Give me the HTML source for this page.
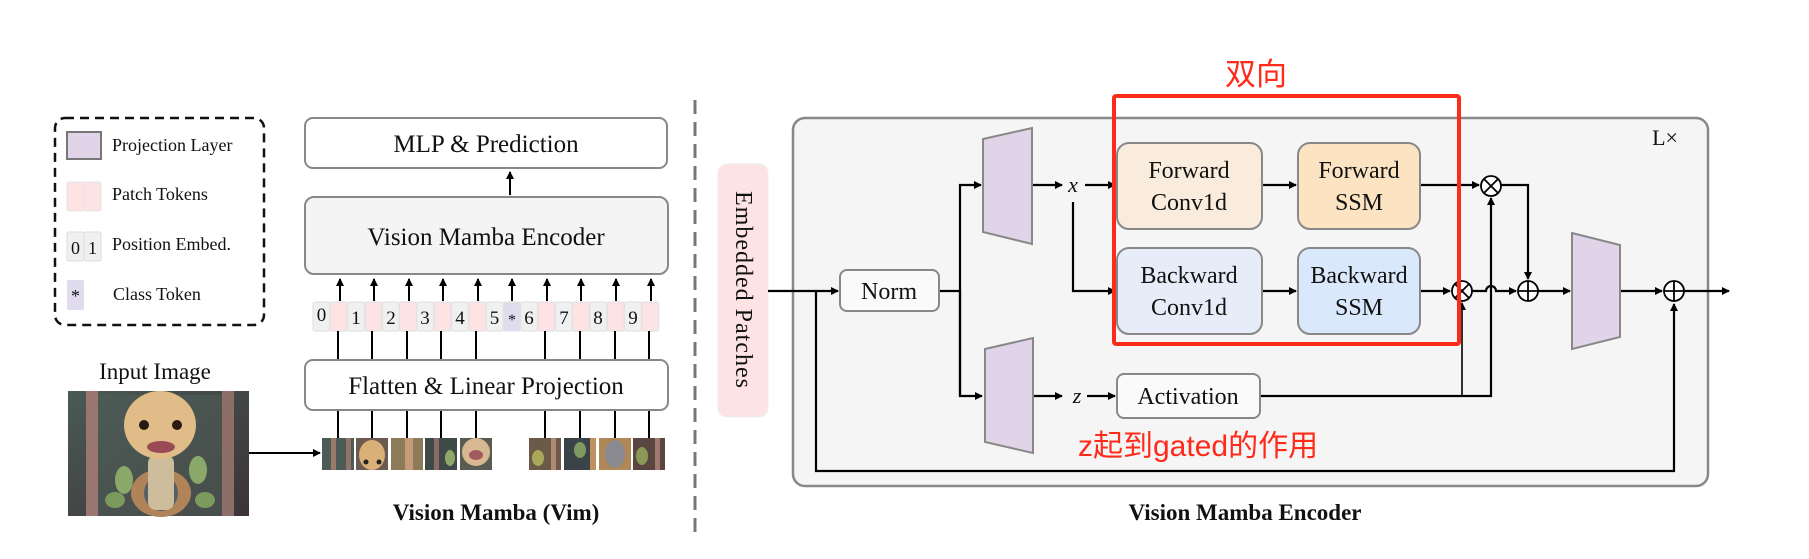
<!DOCTYPE html>
<html><head><meta charset="utf-8"><style>
html,body{margin:0;padding:0;background:#fff;}
svg{display:block;}
text{font-family:"Liberation Serif",serif;fill:#111;}
.cn{font-family:"Liberation Sans","Noto Sans CJK SC",sans-serif;fill:#ff2a1a;}
</style></head><body>
<svg width="1809" height="559" viewBox="0 0 1809 559" xmlns="http://www.w3.org/2000/svg">
<defs>
<marker id="ah" markerWidth="8" markerHeight="8" refX="7" refY="4" orient="auto" markerUnits="userSpaceOnUse"><path d="M0,0 L8,4 L0,8 z" fill="#000"/></marker>
<linearGradient id="bg1" x1="0" y1="0" x2="1" y2="1"><stop offset="0" stop-color="#4a5a55"/><stop offset="1" stop-color="#3c3338"/></linearGradient>
</defs>

<!-- Legend -->
<rect x="55" y="118" width="209" height="207" rx="10" fill="none" stroke="#111" stroke-width="2.5" stroke-dasharray="9,6"/>
<rect x="67" y="132" width="34" height="27" fill="#e2d4e8" stroke="#777" stroke-width="2"/>
<text x="112" y="151" font-size="18">Projection Layer</text>
<rect x="67" y="182" width="17" height="29" rx="2" fill="#fde3e3" stroke="#e6e6e6"/>
<rect x="84" y="182" width="17" height="29" rx="2" fill="#fde3e3" stroke="#e6e6e6"/>
<text x="112" y="200" font-size="18">Patch Tokens</text>
<rect x="67" y="232" width="17" height="29" rx="2" fill="#f0f0f0" stroke="#ddd"/>
<rect x="84" y="232" width="17" height="29" rx="2" fill="#f0f0f0" stroke="#ddd"/>
<text x="75.5" y="254" font-size="18" text-anchor="middle">0</text>
<text x="92.5" y="254" font-size="18" text-anchor="middle">1</text>
<text x="112" y="250" font-size="18">Position Embed.</text>
<rect x="67" y="280" width="17" height="30" rx="2" fill="#e0dcee"/>
<text x="75.5" y="302" font-size="18" text-anchor="middle">*</text>
<text x="113" y="300" font-size="18">Class Token</text>

<!-- Vim stack -->
<rect x="305" y="118" width="362" height="50" rx="8" fill="#fff" stroke="#888" stroke-width="2"/>
<text x="486" y="152" font-size="25" text-anchor="middle">MLP &amp; Prediction</text>
<line x1="510" y1="195" x2="510" y2="172" stroke="#000" stroke-width="2" marker-end="url(#ah)"/>
<rect x="305" y="197" width="363" height="77" rx="9" fill="#f4f4f4" stroke="#888" stroke-width="2"/>
<text x="486" y="245" font-size="25" text-anchor="middle">Vision Mamba Encoder</text>
<g stroke="#000" stroke-width="2">
<line x1="340" y1="301" x2="340" y2="279" marker-end="url(#ah)"/>
<line x1="374" y1="301" x2="374" y2="279" marker-end="url(#ah)"/>
<line x1="409" y1="301" x2="409" y2="279" marker-end="url(#ah)"/>
<line x1="443" y1="301" x2="443" y2="279" marker-end="url(#ah)"/>
<line x1="478" y1="301" x2="478" y2="279" marker-end="url(#ah)"/>
<line x1="512" y1="301" x2="512" y2="279" marker-end="url(#ah)"/>
<line x1="547" y1="301" x2="547" y2="279" marker-end="url(#ah)"/>
<line x1="581" y1="301" x2="581" y2="279" marker-end="url(#ah)"/>
<line x1="616" y1="301" x2="616" y2="279" marker-end="url(#ah)"/>
<line x1="651" y1="301" x2="651" y2="279" marker-end="url(#ah)"/>
</g>
<!-- tokens -->
<g stroke="#e2e2e2" stroke-width="1.2">
<rect x="313" y="302" width="17" height="29" rx="2" fill="#f0f0f0"/><rect x="330.3" y="302" width="17" height="29" rx="2" fill="#fde3e3"/>
<rect x="347.6" y="302" width="17" height="29" rx="2" fill="#f0f0f0"/><rect x="364.9" y="302" width="17" height="29" rx="2" fill="#fde3e3"/>
<rect x="382.2" y="302" width="17" height="29" rx="2" fill="#f0f0f0"/><rect x="399.5" y="302" width="17" height="29" rx="2" fill="#fde3e3"/>
<rect x="416.8" y="302" width="17" height="29" rx="2" fill="#f0f0f0"/><rect x="434.1" y="302" width="17" height="29" rx="2" fill="#fde3e3"/>
<rect x="451.4" y="302" width="17" height="29" rx="2" fill="#f0f0f0"/><rect x="468.7" y="302" width="17" height="29" rx="2" fill="#fde3e3"/>
<rect x="486" y="302" width="17" height="29" rx="2" fill="#f0f0f0"/><rect x="503.3" y="302" width="17" height="29" rx="2" fill="#e0dcee"/>
<rect x="520.6" y="302" width="17" height="29" rx="2" fill="#f0f0f0"/><rect x="537.9" y="302" width="17" height="29" rx="2" fill="#fde3e3"/>
<rect x="555.2" y="302" width="17" height="29" rx="2" fill="#f0f0f0"/><rect x="572.5" y="302" width="17" height="29" rx="2" fill="#fde3e3"/>
<rect x="589.8" y="302" width="17" height="29" rx="2" fill="#f0f0f0"/><rect x="607.1" y="302" width="17" height="29" rx="2" fill="#fde3e3"/>
<rect x="624.4" y="302" width="17" height="29" rx="2" fill="#f0f0f0"/><rect x="641.7" y="302" width="17" height="29" rx="2" fill="#fde3e3"/>
</g>
<g font-size="19" text-anchor="middle">
<text x="321.5" y="321">0</text><text x="356" y="324">1</text><text x="391" y="324">2</text><text x="425" y="324">3</text><text x="460" y="324">4</text>
<text x="494.5" y="324">5</text><text x="512" y="325" font-size="16">*</text><text x="529" y="324">6</text><text x="564" y="324">7</text><text x="598" y="324">8</text><text x="633" y="324">9</text>
</g>
<g stroke="#000" stroke-width="2">
<line x1="338" y1="331" x2="338" y2="360"/><line x1="372" y1="331" x2="372" y2="360"/><line x1="407" y1="331" x2="407" y2="360"/><line x1="441" y1="331" x2="441" y2="360"/><line x1="476" y1="331" x2="476" y2="360"/>
<line x1="545" y1="331" x2="545" y2="360"/><line x1="580" y1="331" x2="580" y2="360"/><line x1="615" y1="331" x2="615" y2="360"/><line x1="649" y1="331" x2="649" y2="360"/>
<line x1="338" y1="410" x2="338" y2="438"/><line x1="372" y1="410" x2="372" y2="438"/><line x1="407" y1="410" x2="407" y2="438"/><line x1="441" y1="410" x2="441" y2="438"/><line x1="476" y1="410" x2="476" y2="438"/>
<line x1="545" y1="410" x2="545" y2="438"/><line x1="580" y1="410" x2="580" y2="438"/><line x1="615" y1="410" x2="615" y2="438"/><line x1="649" y1="410" x2="649" y2="438"/>
</g>
<rect x="305" y="360" width="363" height="50" rx="8" fill="#fff" stroke="#888" stroke-width="2"/>
<text x="486" y="394" font-size="25" text-anchor="middle">Flatten &amp; Linear Projection</text>

<!-- patches -->
<g>
<rect x="322" y="438" width="32" height="32" fill="#4d5a55"/><rect x="331" y="438" width="5" height="32" fill="#9a7a6a"/><rect x="346" y="438" width="5" height="32" fill="#8f7568"/>
<rect x="356" y="438" width="32" height="32" fill="#6a5a50"/><ellipse cx="372" cy="455" rx="13" ry="15" fill="#d9b078"/><circle cx="366" cy="462" r="2.5" fill="#222"/><circle cx="379" cy="462" r="2.5" fill="#222"/>
<rect x="391" y="438" width="32" height="32" fill="#8c7a58"/><rect x="405" y="438" width="8" height="32" fill="#c49a78"/>
<rect x="425" y="438" width="32" height="32" fill="#3d4a48"/><rect x="434" y="438" width="5" height="32" fill="#8a6a62"/><ellipse cx="450" cy="458" rx="5" ry="8" fill="#8fa86a"/>
<rect x="460" y="438" width="32" height="32" fill="#5a5c54"/><ellipse cx="476" cy="452" rx="14" ry="14" fill="#d8b890"/><ellipse cx="476" cy="455" rx="7" ry="5" fill="#a05a60"/>
<rect x="529" y="438" width="32" height="32" fill="#6b5a48"/><ellipse cx="538" cy="458" rx="6" ry="8" fill="#a8a858"/><rect x="551" y="438" width="5" height="32" fill="#b08a70"/>
<rect x="564" y="438" width="32" height="32" fill="#3a4448"/><ellipse cx="580" cy="450" rx="6" ry="8" fill="#7e9a60"/><rect x="590" y="438" width="6" height="32" fill="#c09060"/>
<rect x="599" y="438" width="32" height="32" fill="#b08858"/><ellipse cx="615" cy="454" rx="10" ry="14" fill="#8a8a90"/>
<rect x="633" y="438" width="32" height="32" fill="#5a4540"/><ellipse cx="642" cy="456" rx="6" ry="9" fill="#8a9858"/><rect x="655" y="438" width="5" height="32" fill="#a07870"/>
</g>

<!-- input image -->
<text x="155" y="379" font-size="23" text-anchor="middle">Input Image</text>
<rect x="68" y="391" width="181" height="125" fill="url(#bg1)"/>
<rect x="86" y="391" width="12" height="125" fill="#9a7670"/>
<rect x="222" y="391" width="12" height="125" fill="#8d6e68"/>
<rect x="98" y="395" width="124" height="121" fill="#4f5e56" opacity="0.6"/>
<ellipse cx="124" cy="480" rx="9" ry="14" fill="#8aa86a"/><ellipse cx="198" cy="470" rx="9" ry="14" fill="#8aa86a"/>
<ellipse cx="115" cy="500" rx="10" ry="8" fill="#7a9a5e"/><ellipse cx="205" cy="500" rx="10" ry="8" fill="#7a9a5e"/>
<ellipse cx="161" cy="493" rx="30" ry="24" fill="#b08458"/><ellipse cx="161" cy="493" rx="17" ry="18" fill="#556065"/>
<rect x="148" y="455" width="26" height="55" rx="8" fill="#cdbd9c"/>
<ellipse cx="160" cy="425" rx="36" ry="34" fill="#e0bc88"/>
<circle cx="144" cy="425" r="5" fill="#2a1a12"/><circle cx="177" cy="425" r="5" fill="#2a1a12"/>
<ellipse cx="161" cy="447" rx="14" ry="6" fill="#9a4a55"/>

<line x1="249" y1="453" x2="320" y2="453" stroke="#000" stroke-width="2" marker-end="url(#ah)"/>
<text x="496" y="520" font-size="23" font-weight="bold" text-anchor="middle">Vision Mamba (Vim)</text>

<!-- separator -->
<line x1="695" y1="100" x2="695" y2="536" stroke="#777" stroke-width="3" stroke-dasharray="14,8"/>

<!-- Encoder -->
<rect x="718" y="164" width="50" height="253" rx="9" fill="#fde3e3" stroke="#eee"/>
<text transform="translate(736,290) rotate(90)" font-size="24" text-anchor="middle" style="letter-spacing:1px">Embedded Patches</text>
<rect x="793" y="118" width="915" height="368" rx="12" fill="#f5f5f5" stroke="#888" stroke-width="2.5"/>
<text x="1665" y="145" font-size="22" text-anchor="middle">L×</text>

<g stroke="#000" stroke-width="2.2" fill="none">
<line x1="768" y1="291" x2="838" y2="291" marker-end="url(#ah)"/>
<polyline points="816,291 816,471 1674,471 1674,304" marker-end="url(#ah)"/>
<polyline points="939,291 960,291"/>
<polyline points="960,396 960,185 981,185" marker-end="url(#ah)"/>
<polyline points="960,291 960,396 982,396" marker-end="url(#ah)"/>
<line x1="1032" y1="185" x2="1062" y2="185" marker-end="url(#ah)"/>
<line x1="1085" y1="185" x2="1115" y2="185" marker-end="url(#ah)"/>
<polyline points="1073,202 1073,291 1115,291" marker-end="url(#ah)"/>
<line x1="1033" y1="396" x2="1062" y2="396" marker-end="url(#ah)"/>
<line x1="1087" y1="396" x2="1115" y2="396" marker-end="url(#ah)"/>
<line x1="1262" y1="185" x2="1296" y2="185" marker-end="url(#ah)"/>
<line x1="1262" y1="291" x2="1296" y2="291" marker-end="url(#ah)"/>
<line x1="1420" y1="185" x2="1479" y2="185" marker-end="url(#ah)"/>
<line x1="1420" y1="291" x2="1450" y2="291" marker-end="url(#ah)"/>
<polyline points="1501,185 1528,185 1528,279" marker-end="url(#ah)"/>
<path d="M1472,291 L1486,291 A5,5 0 0 1 1496,291 L1516,291" marker-end="url(#ah)"/>
<polyline points="1260,396 1491,396 1491,198" marker-end="url(#ah)"/>
<polyline points="1462,396 1462,303" stroke-width="1.6" marker-end="url(#ah)"/>
<line x1="1538" y1="291" x2="1570" y2="291" marker-end="url(#ah)"/>
<line x1="1620" y1="291" x2="1662" y2="291" marker-end="url(#ah)"/>
<line x1="1684" y1="291" x2="1729" y2="291" marker-end="url(#ah)"/>
</g>
<!-- trapezoids -->
<polygon points="983,139 1032,128 1032,244 983,232" fill="#e2d4e8" stroke="#888" stroke-width="2"/>
<polygon points="985,349 1033,338 1033,453 985,442" fill="#e2d4e8" stroke="#888" stroke-width="2"/>
<polygon points="1572,233 1620,245 1620,337 1572,349" fill="#e2d4e8" stroke="#888" stroke-width="2"/>
<rect x="840" y="270" width="99" height="41" rx="7" fill="#fafafa" stroke="#888" stroke-width="2"/>
<text x="889" y="299" font-size="24" text-anchor="middle">Norm</text>
<text x="1073" y="192" font-size="22" font-style="italic" text-anchor="middle">x</text>
<text x="1077" y="403" font-size="22" font-style="italic" text-anchor="middle">z</text>

<rect x="1117" y="143" width="145" height="86" rx="12" fill="#f9ecdc" stroke="#888" stroke-width="2"/>
<text x="1189" y="178" font-size="24" text-anchor="middle">Forward</text><text x="1189" y="210" font-size="24" text-anchor="middle">Conv1d</text>
<rect x="1298" y="143" width="122" height="86" rx="12" fill="#fce4c2" stroke="#888" stroke-width="2"/>
<text x="1359" y="178" font-size="24" text-anchor="middle">Forward</text><text x="1359" y="210" font-size="24" text-anchor="middle">SSM</text>
<rect x="1117" y="248" width="145" height="86" rx="12" fill="#e6edf9" stroke="#888" stroke-width="2"/>
<text x="1189" y="283" font-size="24" text-anchor="middle">Backward</text><text x="1189" y="315" font-size="24" text-anchor="middle">Conv1d</text>
<rect x="1298" y="248" width="122" height="86" rx="12" fill="#dae8fc" stroke="#888" stroke-width="2"/>
<text x="1359" y="283" font-size="24" text-anchor="middle">Backward</text><text x="1359" y="315" font-size="24" text-anchor="middle">SSM</text>
<rect x="1117" y="374" width="143" height="44" rx="7" fill="#fafafa" stroke="#888" stroke-width="2"/>
<text x="1188" y="404" font-size="24" text-anchor="middle">Activation</text>

<!-- circles -->
<g fill="#fff" stroke="#000" stroke-width="1.8">
<circle cx="1491" cy="186" r="10"/><path d="M1484,179 L1498,193 M1498,179 L1484,193"/>
<circle cx="1462" cy="291" r="10"/><path d="M1455,284 L1469,298 M1469,284 L1455,298"/>
<circle cx="1528" cy="291" r="10"/><path d="M1518,291 L1538,291 M1528,281 L1528,301"/>
<circle cx="1674" cy="291" r="10"/><path d="M1664,291 L1684,291 M1674,281 L1674,301"/>
</g>

<!-- red annotations -->
<rect x="1114" y="96" width="345" height="248" rx="2" fill="none" stroke="#ff2a1a" stroke-width="4"/>
<text class="cn" x="1256" y="85" font-size="31" text-anchor="middle">双向</text>
<text class="cn" x="1078" y="456" font-size="30">z起到gated的作用</text>

<text x="1245" y="520" font-size="23" font-weight="bold" text-anchor="middle">Vision Mamba Encoder</text>
</svg>
</body></html>
